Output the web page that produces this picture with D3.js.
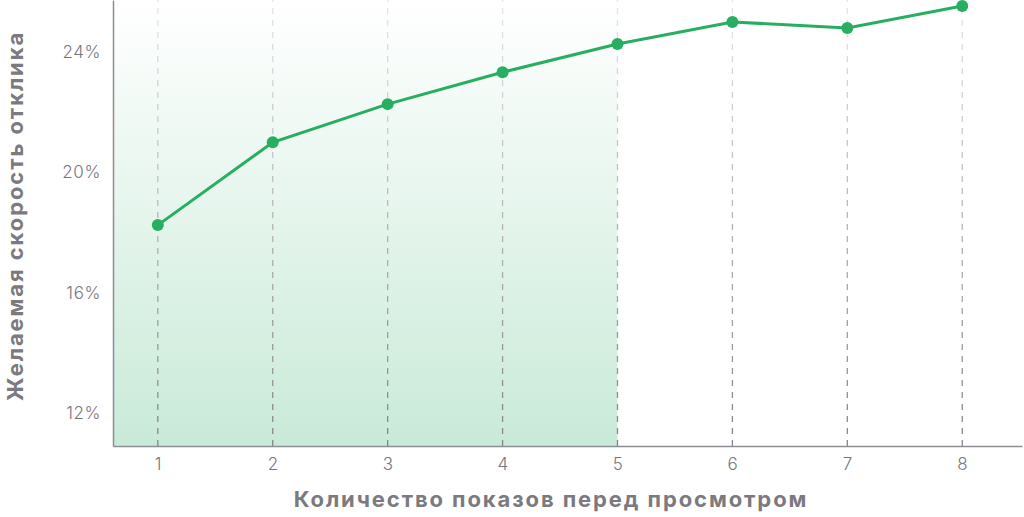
<!DOCTYPE html>
<html>
<head>
<meta charset="utf-8">
<script src="https://cdn.jsdelivr.net/npm/d3@7"></script>
<style>
  html, body { margin: 0; padding: 0; background: #fff; }
  svg { display: block; font-family: Inter, "Noto Sans", sans-serif; }
</style>
</head>
<body>
<svg id="chart" width="1024" height="517"></svg>
<script>
// impressions before viewing -> desired response rate, %
const impressions = [1, 2, 3, 4, 5, 6, 7, 8]
const responseRate = [18.25, 21.0, 22.27, 23.33, 24.27, 25.0, 24.8, 25.53]
const yTicks = [12, 16, 20, 24]
const shadedUpTo = 5

const xTitle = 'Количество показов перед просмотром'
const yTitle = 'Желаемая скорость отклика'

const width = 1024
const height = 517
const margin = { top: 0, right: 2, bottom: 71, left: 113 }

const svg = d3.select('#chart')

const x = d3.scaleLinear()
  .domain([0.61, 8.52])
  .range([margin.left, width - margin.right])

const y = d3.scaleLinear()
  .domain([10.91, 25.73])
  .range([height - margin.bottom, margin.top])

const defs = svg.append('defs')

const fillGrad = defs.append('linearGradient')
  .attr('id', 'fill-grad')
  .attr('x1', 0).attr('y1', 0).attr('x2', 0).attr('y2', 1)
fillGrad.append('stop').attr('offset', '0%').attr('stop-color', '#ffffff')
fillGrad.append('stop').attr('offset', '100%').attr('stop-color', '#c9ead8')

const gridGrad = defs.append('linearGradient')
  .attr('id', 'grid-grad')
  .attr('gradientUnits', 'userSpaceOnUse')
  .attr('x1', 0).attr('y1', y.range()[1]).attr('x2', 0).attr('y2', y.range()[0])
gridGrad.append('stop').attr('offset', '0%').attr('stop-color', '#e6e6e8')
gridGrad.append('stop').attr('offset', '100%').attr('stop-color', '#85838a')

// shaded band up to the 5th impression
svg.append('rect')
  .attr('x', x.range()[0])
  .attr('y', y.range()[1])
  .attr('width', x(shadedUpTo) - x.range()[0])
  .attr('height', y.range()[0] - y.range()[1])
  .attr('fill', 'url(#fill-grad)')

// vertical dashed guides
svg.append('g')
  .selectAll('line')
  .data(impressions)
  .join('line')
  .attr('x1', d => x(d)).attr('x2', d => x(d))
  .attr('y1', y.range()[0]).attr('y2', y.range()[1])
  .attr('stroke', 'url(#grid-grad)')
  .attr('stroke-width', 1.3)
  .attr('stroke-dasharray', '6 6')

// axes
const xAxis = svg.append('g')
  .attr('transform', `translate(0,${y.range()[0]})`)
  .call(d3.axisBottom(x).tickValues(impressions).tickSize(0).tickPadding(12).tickFormat(d3.format('d')))
const yAxis = svg.append('g')
  .attr('transform', `translate(${x.range()[0]},0)`)
  .call(d3.axisLeft(y).tickValues(yTicks).tickSize(0).tickPadding(12).tickFormat(d => d + '%'))

for (const ax of [xAxis, yAxis]) {
  ax.select('.domain').attr('stroke', '#8e8d93').attr('stroke-width', 1.5)
  ax.selectAll('text')
    .attr('fill', '#77767c')
    .style('font-size', '17px')
    .style('font-weight', 300)
    .style('letter-spacing', '0.6px')
    .style('font-family', 'Inter, "Noto Sans", sans-serif')
}

// line and points
const line = d3.line()
  .x((d, i) => x(impressions[i]))
  .y(d => y(d))

svg.append('path')
  .datum(responseRate)
  .attr('d', line)
  .attr('fill', 'none')
  .attr('stroke', '#27ae60')
  .attr('stroke-width', 3)

svg.append('g')
  .selectAll('circle')
  .data(responseRate)
  .join('circle')
  .attr('cx', (d, i) => x(impressions[i]))
  .attr('cy', d => y(d))
  .attr('r', 6)
  .attr('fill', '#27ae60')

// titles
svg.append('text')
  .attr('x', 551)
  .attr('y', 507)
  .attr('text-anchor', 'middle')
  .attr('fill', '#7b7a80')
  .style('font-size', '22px')
  .style('font-weight', 700)
  .style('letter-spacing', '1.9px')
  .text(xTitle)

svg.append('text')
  .attr('transform', 'translate(23,216) rotate(-90)')
  .attr('text-anchor', 'middle')
  .attr('fill', '#7b7a80')
  .style('font-size', '22px')
  .style('font-weight', 700)
  .style('letter-spacing', '1.9px')
  .text(yTitle)
</script>
</body>
</html>
